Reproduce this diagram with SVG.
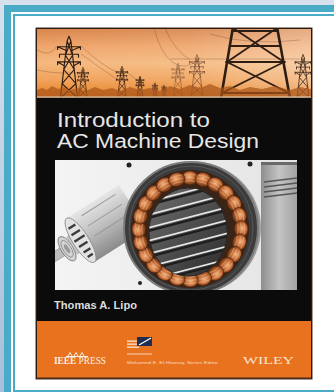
<svg xmlns="http://www.w3.org/2000/svg" width="334" height="392" viewBox="0 0 334 392">
<style>
.sans{font-family:"Liberation Sans",Arial,sans-serif}
.serif{font-family:"Liberation Serif","Times New Roman",serif}
.tw{stroke:#2e1d12;fill:none;stroke-linecap:round}
.wire{stroke:#5a3522;fill:none;stroke-width:0.5;opacity:0.55}
.slot{stroke:#e6e6e6;stroke-width:1.6;fill:none}
.slotd{stroke:#1e1e1e;stroke-width:2.4;fill:none}
</style>
<defs>
<linearGradient id="bg" x1="0" y1="0" x2="0" y2="1"><stop offset="0" stop-color="#d6e1ed"/><stop offset="1" stop-color="#a6bfdc"/></linearGradient>
<linearGradient id="sky" x1="0" y1="29" x2="0" y2="97" gradientUnits="userSpaceOnUse">
<stop offset="0" stop-color="#d9864c"/><stop offset="0.25" stop-color="#efa56b"/><stop offset="0.5" stop-color="#f5b97f"/><stop offset="0.75" stop-color="#f1a25a"/><stop offset="1" stop-color="#e47f22"/></linearGradient>
<linearGradient id="haze" x1="37" y1="0" x2="311" y2="0" gradientUnits="userSpaceOnUse"><stop offset="0" stop-color="#fff" stop-opacity="0"/><stop offset="0.55" stop-color="#fff" stop-opacity="0.08"/><stop offset="1" stop-color="#fff" stop-opacity="0.32"/></linearGradient>
<linearGradient id="photo" x1="0" y1="0" x2="1" y2="0"><stop offset="0" stop-color="#f4f4f4"/><stop offset="1" stop-color="#e4e4e4"/></linearGradient>
<linearGradient id="rotor" x1="0" y1="0" x2="0" y2="1"><stop offset="0" stop-color="#e6e6e6"/><stop offset="0.5" stop-color="#bdbdbd"/><stop offset="1" stop-color="#8a8a8a"/></linearGradient>
<linearGradient id="house" x1="0" y1="0" x2="1" y2="0"><stop offset="0" stop-color="#8e8e8e"/><stop offset="0.5" stop-color="#c4c4c4"/><stop offset="1" stop-color="#a2a2a2"/></linearGradient>
<linearGradient id="bore" x1="0" y1="0" x2="1" y2="1"><stop offset="0" stop-color="#6e6e6e"/><stop offset="1" stop-color="#2c2c2c"/></linearGradient>
<radialGradient id="cu" cx="0.45" cy="0.4" r="0.6"><stop offset="0" stop-color="#f2b47e"/><stop offset="0.55" stop-color="#bf6532"/><stop offset="1" stop-color="#62300f"/></radialGradient>
<clipPath id="pclip"><rect x="55" y="160" width="242" height="130"/></clipPath>
<clipPath id="skyclip"><rect x="37" y="29" width="274" height="68"/></clipPath>
<clipPath id="boreclip"><ellipse cx="188" cy="232" rx="39" ry="44"/></clipPath>
<g id="pylon" fill="none" stroke-linecap="round">
<path d="M0,-5 L-2,0 L-9,60 M0,-5 L2,0 L9,60 M-2,0 L3.75,15 L-5.5,30 L7.25,45 L-9,60 M2,0 L-3.75,15 L5.5,30 L-7.25,45 L9,60 M-12,6 L12,6 M-10,14 L10,14 M-12,22 L12,22 M-12,6 L-3,10 M12,6 L3,10 M-12,22 L-5,26 M12,22 L5,26 M-12,6 v3 M12,6 v3 M-10,14 v3 M10,14 v3 M-12,22 v3 M12,22 v3"/>
</g>
<g id="coil">
<ellipse cx="0" cy="0" rx="8.4" ry="7" fill="url(#cu)" stroke="#4a200c" stroke-width="0.6"/>
<path d="M-5.5,-3 Q0,-5 5.5,-3 M-6,0.5 Q0,-1.5 6,0.5 M-5.5,3.5 Q0,2 5.5,3.5" stroke="#f7cda2" stroke-width="0.5" fill="none" opacity="0.8"/>
</g>
</defs>

<!-- page frame -->
<rect x="0" y="0" width="334" height="392" fill="url(#bg)"/>
<rect x="4" y="5" width="330" height="387" fill="#4aabc6"/>
<rect x="11" y="12" width="323" height="380" fill="#ffffff"/>
<rect x="13" y="14" width="321" height="378" fill="#4aabc6"/>
<rect x="15" y="16" width="319" height="374" fill="#ffffff"/>

<g id="book">
<rect x="36" y="28" width="276" height="351" fill="#0b0b0b" stroke="#4a2c1c" stroke-width="1"/>

<g id="sky-photo" clip-path="url(#skyclip)">
<rect x="37" y="29" width="274" height="68" fill="url(#sky)"/>
<rect x="37" y="29" width="274" height="68" fill="url(#haze)"/>
<path class="wire" d="M37,50 Q50,58 57,46 M81,46 Q100,64 118,73 M81,54 Q100,68 118,80 M128,73 Q136,80 140,81 M154,28 Q160,52 172,62 Q186,72 200,58 M165,28 Q174,50 190,60 M170,59 L300,59 M210,34 Q250,46 300,40 M37,70 Q60,75 83,72"/>
<use href="#pylon" transform="translate(197,58) scale(0.62)" stroke="#5a3522" stroke-width="1.4" opacity="0.6"/>
<use href="#pylon" transform="translate(178,66) scale(0.5)" stroke="#5a3522" stroke-width="1.4" opacity="0.5"/>
<use href="#pylon" transform="translate(155,84) scale(0.22)" stroke="#4a2a18" stroke-width="3" opacity="0.7"/>
<use href="#pylon" transform="translate(164,86) scale(0.18)" stroke="#4a2a18" stroke-width="3" opacity="0.7"/>
<use href="#pylon" transform="translate(140,78) scale(0.32)" stroke="#3a2416" stroke-width="2.4" opacity="0.85"/>
<use href="#pylon" transform="translate(122,69) scale(0.47)" stroke="#3a2416" stroke-width="1.8" opacity="0.85"/>
<use href="#pylon" transform="translate(83,70) scale(0.45)" stroke="#3a2416" stroke-width="1.8" opacity="0.85"/>
<use href="#pylon" transform="translate(303,58) scale(0.65)" stroke="#3a2416" stroke-width="1.5" opacity="0.8"/>
<use href="#pylon" transform="translate(69,41) scale(0.95)" stroke="#2e1d12" stroke-width="1.2"/>
<path class="tw" stroke-width="2.6" d="M233,27 L221,98 M277,27 L290,98"/>
<path class="tw" stroke-width="1.8" d="M232,31 L277,31 M233,28 L284,62 M277,28 L227,62 M226,62 L285,62 M227,62 L289,93 M284,62 L222,93 M222,93 L289,93 M230,46 L280,46"/>
<path d="M37,97 L37,90 L42,88 L47,90 L52,86 L58,89 L64,87 L70,90 L78,88 L86,91 L95,87 L103,90 L112,88 L120,91 L130,87 L140,90 L150,88 L160,91 L170,86 L180,89 L190,85 L200,88 L210,84 L220,88 L230,86 L240,90 L250,87 L262,89 L275,86 L290,90 L300,87 L311,89 L311,97 Z" fill="#a8541a" opacity="0.7"/>
</g>
<rect x="37" y="96.5" width="274" height="1.2" fill="#f0d6b8"/>

<text class="sans" x="57" y="127" font-size="20" fill="#e6e6e6" textLength="153" lengthAdjust="spacingAndGlyphs">Introduction to</text>
<text class="sans" x="57" y="148" font-size="20" fill="#e6e6e6" textLength="202" lengthAdjust="spacingAndGlyphs">AC Machine Design</text>

<g id="motor-photo" clip-path="url(#pclip)">
<rect x="55" y="160" width="242" height="130" fill="url(#photo)"/>
<rect x="261" y="162" width="36" height="130" fill="url(#house)"/>
<path d="M264,182 L297,178 M264,187 L297,183 M264,192 L297,188 M264,197 L297,193" stroke="#555" stroke-width="1.3"/>
<rect x="261" y="162" width="36" height="3" fill="#6a6a6a"/>
<g transform="translate(62,252) rotate(-32.5)">
<rect x="-12" y="-4.5" width="20" height="9" fill="#bdbdbd" stroke="#888" stroke-width="0.6"/>
<ellipse cx="6" cy="0" rx="6" ry="14" fill="#d4d4d4" stroke="#777" stroke-width="0.8"/>
<ellipse cx="6" cy="0" rx="4" ry="9.5" fill="none" stroke="#888" stroke-width="0.8"/>
<ellipse cx="6" cy="0" rx="2" ry="5" fill="#9a9a9a"/>
<rect x="12" y="-10" width="10" height="20" fill="#c8c8c8" stroke="#999" stroke-width="0.5"/>
<rect x="22" y="-26" width="62" height="52" fill="url(#rotor)"/>
<ellipse cx="22" cy="0" rx="8" ry="26" fill="#e2e2e2" stroke="#8a8a8a" stroke-width="0.8"/>
<path d="M18,-16 h8 M17,-9 h10 M16,-2 h12 M17,5 h10 M18,12 h8 M19,18 h6" stroke="#3a3a3a" stroke-width="2.4"/>
<path d="M36,-20 h40 M36,-8 h40 M36,4 h40 M36,16 h40" stroke="#9a9a9a" stroke-width="1"/>
</g>
<ellipse cx="194" cy="228" rx="67" ry="66" fill="#9c9c9c"/>
<ellipse cx="191" cy="228" rx="67" ry="66" fill="#3c3c3c" stroke="#7c7c7c" stroke-width="2"/>
<ellipse cx="191" cy="228" rx="62" ry="62" fill="none" stroke="#585858" stroke-width="1"/>
<circle cx="129" cy="165" r="2.5" fill="#222"/>
<circle cx="250" cy="164" r="2.5" fill="#222"/>
<circle cx="140" cy="283" r="2" fill="#222"/>
<ellipse cx="190" cy="229" rx="59" ry="59" fill="#3a2418"/>
<g id="coils">
<use href="#coil" transform="rotate(0 190 229) translate(190 178)"/>
<use href="#coil" transform="rotate(15 190 229) translate(190 178)"/>
<use href="#coil" transform="rotate(30 190 229) translate(190 178)"/>
<use href="#coil" transform="rotate(45 190 229) translate(190 178)"/>
<use href="#coil" transform="rotate(60 190 229) translate(190 178)"/>
<use href="#coil" transform="rotate(75 190 229) translate(190 178)"/>
<use href="#coil" transform="rotate(90 190 229) translate(190 178)"/>
<use href="#coil" transform="rotate(105 190 229) translate(190 178)"/>
<use href="#coil" transform="rotate(120 190 229) translate(190 178)"/>
<use href="#coil" transform="rotate(135 190 229) translate(190 178)"/>
<use href="#coil" transform="rotate(150 190 229) translate(190 178)"/>
<use href="#coil" transform="rotate(165 190 229) translate(190 178)"/>
<use href="#coil" transform="rotate(180 190 229) translate(190 178)"/>
<use href="#coil" transform="rotate(195 190 229) translate(190 178)"/>
<use href="#coil" transform="rotate(210 190 229) translate(190 178)"/>
<use href="#coil" transform="rotate(225 190 229) translate(190 178)"/>
<use href="#coil" transform="rotate(240 190 229) translate(190 178)"/>
<use href="#coil" transform="rotate(255 190 229) translate(190 178)"/>
<use href="#coil" transform="rotate(270 190 229) translate(190 178)"/>
<use href="#coil" transform="rotate(285 190 229) translate(190 178)"/>
<use href="#coil" transform="rotate(300 190 229) translate(190 178)"/>
<use href="#coil" transform="rotate(315 190 229) translate(190 178)"/>
<use href="#coil" transform="rotate(330 190 229) translate(190 178)"/>
<use href="#coil" transform="rotate(345 190 229) translate(190 178)"/>
</g>
<ellipse cx="188" cy="232" rx="39" ry="44" fill="url(#bore)" stroke="#2a2a2a" stroke-width="1"/>
<g clip-path="url(#boreclip)">
<path class="slotd" d="M140,207 L240,181 M140,220 L240,194 M140,233 L240,207 M140,246 L240,220 M140,259 L240,233 M140,272 L240,246 M140,285 L240,259"/>
<path class="slot" d="M140,204 L240,178 M140,217 L240,191 M140,230 L240,204 M140,243 L240,217 M140,256 L240,230 M140,269 L240,243 M140,282 L240,256"/>
</g>
</g>

<text class="sans" x="54" y="309" font-size="10.5" font-weight="bold" fill="#dedede" textLength="83" lengthAdjust="spacingAndGlyphs">Thomas A. Lipo</text>

<g id="footer">
<rect x="37" y="321" width="274" height="57" fill="#e8721e"/>
<rect x="37" y="377.5" width="274" height="1.5" fill="#4a2c1c"/>
<path d="M66,356.5 L88,356.5 M68,356 l2,-3.5 l2,3.5 M74,356 l2,-3.5 l2,3.5 M80,356 l2,-3.5 l2,3.5" stroke="#fbeee0" stroke-width="1" fill="none"/>
<text class="serif" x="54" y="364" font-size="9.5" fill="#fbeee0" textLength="52" lengthAdjust="spacingAndGlyphs"><tspan font-weight="bold">IEEE</tspan> PRESS</text>
<rect x="127" y="340.5" width="10" height="1.3" fill="#fbe6d2"/>
<rect x="127" y="343.5" width="10" height="1.3" fill="#fbe6d2"/>
<rect x="127" y="346.5" width="12" height="1.3" fill="#fbe6d2"/>
<rect x="137" y="337" width="15" height="9" fill="#1f2d55"/>
<path d="M139,345 L151,338" stroke="#ffffff" stroke-width="1.2"/>
<rect x="127" y="353" width="25" height="2" fill="#fbe0c8" opacity="0.45"/>
<text class="sans" x="127" y="363.5" font-size="4" fill="#f8dcc4" textLength="91" lengthAdjust="spacingAndGlyphs">Mohamed E. El-Hawary, Series Editor</text>
<text class="serif" x="243" y="364" font-size="10" fill="#f7e6d2" textLength="51" lengthAdjust="spacingAndGlyphs">WILEY</text>
</g>
</g>
</svg>
